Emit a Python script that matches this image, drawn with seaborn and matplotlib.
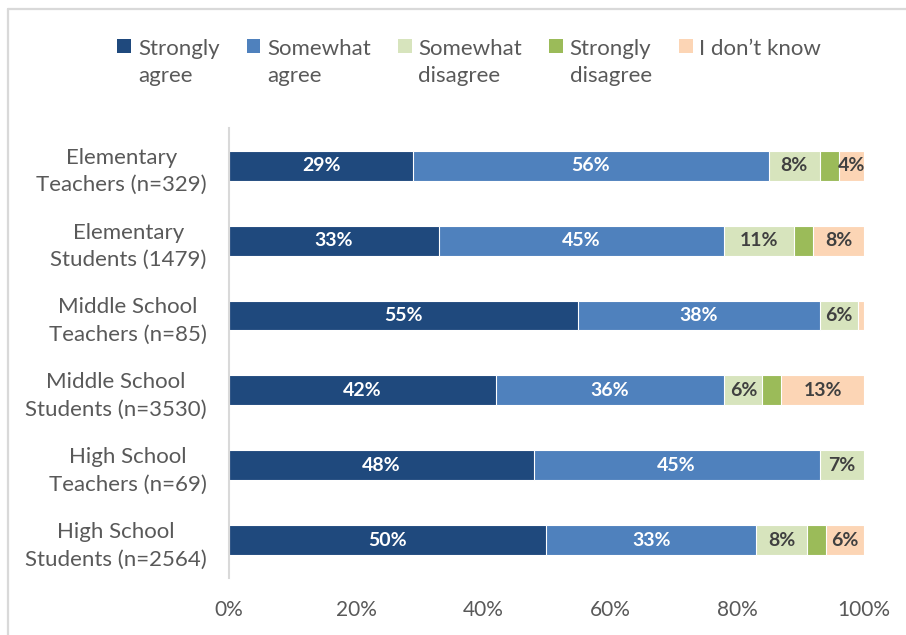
import matplotlib
matplotlib.use("Agg")
import matplotlib.pyplot as plt
from matplotlib.lines import Line2D
from matplotlib.patches import Patch
import numpy as np
import pandas as pd
import seaborn as sns

groups = [
    "Elementary\nTeachers (n=329)",
    "Elementary\nStudents (1479)",
    "Middle School\nTeachers (n=85)",
    "Middle School\nStudents (n=3530)",
    "High School\nTeachers (n=69)",
    "High School\nStudents (n=2564)",
]
responses = ["Strongly\nagree", "Somewhat\nagree", "Somewhat\ndisagree",
             "Strongly\ndisagree", "I don\u2019t know\n"]
strongly_agree = [29, 33, 55, 42, 48, 50]
somewhat_agree = [56, 45, 38, 36, 45, 33]
somewhat_disagree = [8, 11, 6, 6, 7, 8]
strongly_disagree = [3, 3, 0, 3, 0, 3]
dont_know = [4, 8, 1, 13, 0, 6]
x_ticks = [0, 20, 40, 60, 80, 100]

colors = ["#1F497D", "#4F81BD", "#D7E4BD", "#9BBB59", "#FCD5B5"]
label_colors = ["white", "white", "#404040", "#404040", "#404040"]
text_gray = "#595959"

series = [strongly_agree, somewhat_agree, somewhat_disagree, strongly_disagree, dont_know]
df = pd.DataFrame({resp: vals for resp, vals in zip(responses, series)}, index=groups)
cum = df.cumsum(axis=1)

sns.set_theme(style="white")
plt.rcParams["font.family"] = ["Lato", "DejaVu Sans"]

fig = plt.figure(figsize=(9.06, 6.35), dpi=100)
ax = fig.add_axes([0.2528, 0.0898, 0.7008, 0.7086])

# stacked bars: draw cumulative totals from the last segment back to the first
for i in reversed(range(len(responses))):
    sns.barplot(x=cum.iloc[:, i].values, y=groups, orient="h", color=colors[i],
                saturation=1, width=0.4, edgecolor="white", linewidth=0.8, ax=ax)

# segment value labels
for i, resp in enumerate(responses):
    for r, g in enumerate(groups):
        v = df.loc[g, resp]
        if v >= 4:
            xc = cum.loc[g, resp] - v / 2
            ax.text(xc, r, f"{v}%", ha="center", va="center", fontsize=14,
                    fontweight="bold", color=label_colors[i])

ax.set_xlim(0, 100)
ax.set_ylim(len(groups) - 0.5, -0.5)
ax.set_xticks(x_ticks)
ax.set_xticklabels([f"{t}%" for t in x_ticks])
ax.set_xlabel("")
ax.set_ylabel("")
ax.tick_params(axis="x", length=0, pad=16, labelsize=15, labelcolor=text_gray)
ax.tick_params(axis="y", length=0, pad=16, labelsize=16, labelcolor=text_gray)
for lab in ax.get_yticklabels():
    lab.set_multialignment("center")
    lab.set_linespacing(1.45)

for side in ["top", "right", "bottom"]:
    ax.spines[side].set_visible(False)
ax.spines["left"].set_color("#D9D9D9")
ax.spines["left"].set_linewidth(1.5)

handles = [Patch(facecolor=c, edgecolor="none") for c in colors]
leg = fig.legend(handles, responses, loc="upper center", bbox_to_anchor=(0.518, 0.97),
                 ncol=5, frameon=False, fontsize=16, handlelength=0.62, handleheight=0.62,
                 handletextpad=0.3, columnspacing=1.22, labelcolor=text_gray)
for t in leg.get_texts():
    t.set_linespacing(1.45)
# put each key square beside the first line of its label
line_step = 17 * 72 / 100
for h in leg.legend_handles:
    h.set_y(h.get_y() + line_step)

# chart frame (top and left edges)
fig.add_artist(Line2D([8 / 906, 1], [1 - 9 / 635, 1 - 9 / 635], transform=fig.transFigure,
                      color="#D9D9D9", lw=1.6))
fig.add_artist(Line2D([8 / 906, 8 / 906], [0, 1 - 9 / 635], transform=fig.transFigure,
                      color="#D9D9D9", lw=1.6))

fig.savefig("out.png", dpi=100)
